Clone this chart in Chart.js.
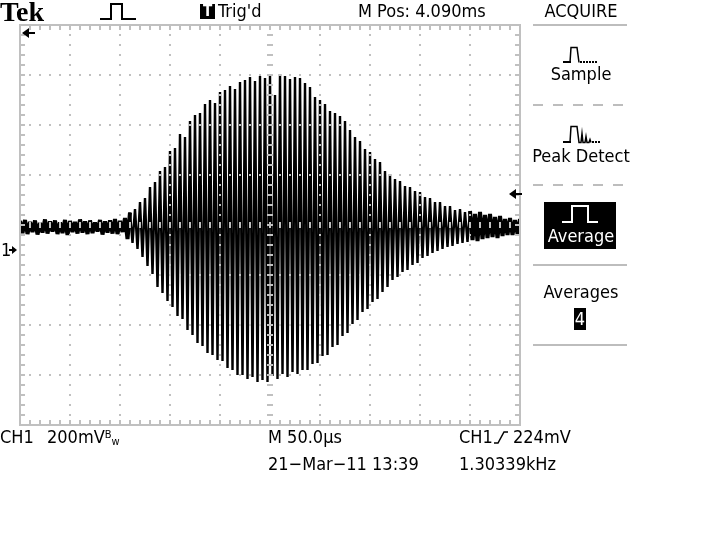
<!DOCTYPE html>
<html><head><meta charset="utf-8">
<script src="https://cdn.jsdelivr.net/npm/chart.js@4"></script>
<style>
html,body{margin:0;padding:0;background:#fff;}
#wrap{position:relative;width:703px;height:536px;overflow:hidden;background:#fff;}
canvas{position:absolute;left:0;top:0;}
.t{position:absolute;font-family:'DejaVu Sans Condensed','DejaVu Sans',sans-serif;font-stretch:condensed;font-size:18px;line-height:20px;color:#000;white-space:nowrap;}
.c{text-align:center;width:104px;left:529px;}
.w{color:#fff;}
</style></head><body>
<div id="wrap">
<canvas id="c" width="703" height="536"></canvas>
<div class="t" style="left:0px;top:0px;font-family:'Liberation Serif','DejaVu Serif',serif;font-weight:bold;font-stretch:normal;font-size:28px;line-height:24px;">Tek</div>
<div class="t w" style="left:200px;top:1px;font-weight:bold;width:15px;text-align:center;font-size:15px;">T</div>
<div class="t" style="left:218px;top:1px;">Trig'd</div>
<div class="t" style="left:358px;top:1px;">M Pos: 4.090ms</div>
<div class="t c" style="top:1px;">ACQUIRE</div>
<div class="t c" style="top:64px;">Sample</div>
<div class="t c" style="top:146px;">Peak Detect</div>
<div class="t c w" style="top:226px;">Average</div>
<div class="t c" style="top:282px;">Averages</div>
<div class="t w" style="left:574px;top:309px;width:12px;text-align:center;">4</div>
<div class="t" style="left:0px;top:427px;">CH1</div>
<div class="t" style="left:47px;top:427px;">200mV<span style="font-size:11px;position:relative;top:-5px;">B</span><span style="font-size:11px;position:relative;top:2px;">w</span></div>
<div class="t" style="left:268px;top:427px;">M 50.0µs</div>
<div class="t" style="left:459px;top:427px;">CH1</div>
<div class="t" style="left:513px;top:427px;">224mV</div>
<div class="t" style="left:268px;top:454px;">21−Mar−11 13:39</div>
<div class="t" style="left:459px;top:454px;">1.30339kHz</div>
</div>
<script>
const HALF_PERIOD_US = 2.5;            // spacing between a positive and negative excursion
const peakMv = [
  116,120,112,118,108,122,114,118,110,120,116,112,122,114,118,110,120,114,118,124,116,
  128,150,164,192,208,252,272,316,332,396,408,464,452,516,540,548,584,600,588,632,
  640,656,644,672,680,692,676,696,688,700,620,704,696,684,692,688,668,652,612,600,
  584,556,548,536,516,480,452,436,404,392,364,352,316,304,284,276,256,252,236,232,
  212,208,192,192,176,176,160,164,152,156,144,152,140,144,132,136,124,128,120,124
];
const troughMv = [
  68,64,72,62,70,66,74,64,68,60,72,66,70,64,68,74,62,70,66,64,72,
  44,28,4,-28,-64,-96,-148,-172,-204,-228,-264,-276,-320,-340,-372,-384,-412,-420,-440,-444,
  -472,-480,-500,-500,-516,-508,-528,-520,-528,-504,-516,-496,-508,-488,-496,-480,-480,-456,-452,-424,
  -420,-388,-380,-344,-332,-296,-280,-248,-236,-208,-196,-168,-148,-120,-108,-88,-80,-60,-52,-32,
  -24,-12,-4,4,12,16,24,28,32,40,36,44,48,52,48,56,60,60,64
];
const TRIGGER_LEVEL_MV = 224;
const X_MIN = 0, X_MAX = 500, X_DIV = 50, X_MINOR = 10;       // us
const Y_MIN = -700, Y_MAX = 900, Y_DIV = 200, Y_MINOR = 40;   // mV
const GRID = '#c0c0c0';

const points = [];
for (let k = 0; k < peakMv.length; k++) {
  points.push({x: 2 * k * HALF_PERIOD_US, y: peakMv[k]});
  if (k < troughMv.length) points.push({x: (2 * k + 1) * HALF_PERIOD_US, y: troughMv[k]});
}

function arrowLeft(ctx, x, y) { // tip at x
  ctx.beginPath(); ctx.moveTo(x, y); ctx.lineTo(x + 7, y - 5); ctx.lineTo(x + 7, y + 5); ctx.closePath(); ctx.fill();
  ctx.fillRect(x + 6, y - 1, 7, 2);
}
function arrowRight(ctx, x, y) { // tip at x
  ctx.beginPath(); ctx.moveTo(x, y); ctx.lineTo(x - 5, y - 4); ctx.lineTo(x - 5, y + 4); ctx.closePath(); ctx.fill();
  ctx.fillRect(x - 8, y - 1, 4, 2);
}

const graticule = {
  id: 'graticule',
  afterDatasetsDraw(chart) {
    const {ctx, scales: {x, y}} = chart;
    const L = Math.round(x.getPixelForValue(X_MIN)), R = Math.round(x.getPixelForValue(X_MAX));
    const T = Math.round(y.getPixelForValue(Y_MAX)), B = Math.round(y.getPixelForValue(Y_MIN));
    const xc = (X_MIN + X_MAX) / 2, yc = (Y_MIN + Y_MAX) / 2;
    ctx.save();
    ctx.fillStyle = GRID;
    for (let xv = X_MIN + X_DIV; xv < X_MAX; xv += X_DIV) {
      const px = Math.round(x.getPixelForValue(xv));
      for (let yv = Y_MIN + Y_MINOR; yv < Y_MAX; yv += Y_MINOR) {
        const py = Math.round(y.getPixelForValue(yv));
        if (xv === xc) ctx.fillRect(px - 3, py - 1, 6, 2); else ctx.fillRect(px - 1, py - 1, 2, 2);
      }
    }
    for (let yv = Y_MIN + Y_DIV; yv < Y_MAX; yv += Y_DIV) {
      const py = Math.round(y.getPixelForValue(yv));
      for (let xv = X_MIN + X_MINOR; xv < X_MAX; xv += X_MINOR) {
        const px = Math.round(x.getPixelForValue(xv));
        if (yv === yc) ctx.fillRect(px - 1, py - 3, 2, 6); else ctx.fillRect(px - 1, py - 1, 2, 2);
      }
    }
    // border with inward ticks
    ctx.fillRect(L - 1, T - 1, R - L + 2, 2);
    ctx.fillRect(L - 1, B - 1, R - L + 2, 2);
    ctx.fillRect(L - 1, T - 1, 2, B - T + 2);
    ctx.fillRect(R - 1, T - 1, 2, B - T + 2);
    for (let xv = X_MIN + X_MINOR; xv < X_MAX; xv += X_MINOR) {
      const px = Math.round(x.getPixelForValue(xv));
      ctx.fillRect(px - 1, T, 2, 5); ctx.fillRect(px - 1, B - 5, 2, 5);
    }
    for (let yv = Y_MIN + Y_MINOR; yv < Y_MAX; yv += Y_MINOR) {
      const py = Math.round(y.getPixelForValue(yv));
      ctx.fillRect(L, py - 1, 5, 2); ctx.fillRect(R - 5, py - 1, 5, 2);
    }
    // markers
    ctx.fillStyle = '#000';
    arrowLeft(ctx, L + 2, T + 8);                                   // trigger position (off screen left)
    arrowLeft(ctx, R - 11, Math.round(y.getPixelForValue(TRIGGER_LEVEL_MV)));  // trigger level
    arrowRight(ctx, L - 3, Math.round(y.getPixelForValue(0)));      // CH1 ground
    ctx.restore();
  },
  afterDraw(chart) {
    const ctx = chart.ctx;
    ctx.save();
    ctx.strokeStyle = '#000'; ctx.fillStyle = '#000'; ctx.lineWidth = 2;
    // header pulse icon
    ctx.beginPath(); ctx.moveTo(100, 19); ctx.lineTo(111, 19); ctx.lineTo(111, 4); ctx.lineTo(122, 4); ctx.lineTo(122, 19); ctx.lineTo(136, 19); ctx.stroke();
    // Trig'd T box
    ctx.fillRect(200, 4, 15, 15);
    // ground label "1"
    ctx.font = "18px 'DejaVu Sans Condensed','DejaVu Sans',sans-serif";
    ctx.textBaseline = 'middle';
    ctx.fillText('1', 1, Math.round(chart.scales.y.getPixelForValue(0)) + 1);
    // menu separators
    ctx.fillStyle = '#bdbdbd';
    ctx.fillRect(533, 24, 94, 2);
    ctx.fillRect(533, 264, 94, 2);
    ctx.fillRect(533, 344, 94, 2);
    for (let xx = 533; xx < 627; xx += 20) { ctx.fillRect(xx, 104, Math.min(10, 627 - xx), 2); ctx.fillRect(xx, 184, Math.min(10, 627 - xx), 2); }
    // sample icon
    ctx.fillStyle = '#000'; ctx.lineWidth = 1.5;
    for (let xx = 563; xx < 570; xx += 2) ctx.fillRect(xx, 61, 2, 2);
    for (let xx = 580; xx < 598; xx += 3) ctx.fillRect(xx, 61, 2, 2);
    ctx.beginPath(); ctx.moveTo(570, 62.5); ctx.lineTo(571, 47.5); ctx.lineTo(577, 47.5); ctx.lineTo(579, 62.5); ctx.stroke();
    // peak detect icon
    for (let xx = 563; xx < 570; xx += 2) ctx.fillRect(xx, 141, 2, 2);
    for (let xx = 592; xx < 599; xx += 3) ctx.fillRect(xx, 141, 2, 2);
    ctx.beginPath(); ctx.moveTo(570, 142.5); ctx.lineTo(571, 126.5); ctx.lineTo(577, 126.5); ctx.lineTo(579, 142.5);
    ctx.lineTo(581, 142.5); ctx.lineTo(582, 133.5); ctx.lineTo(583, 142.5); ctx.lineTo(585, 142.5); ctx.lineTo(586, 136.5); ctx.lineTo(587, 142.5); ctx.lineTo(589, 142.5); ctx.lineTo(590, 139.5); ctx.lineTo(591, 142.5); ctx.stroke();
    // average box and icon
    ctx.fillRect(544, 202, 72, 47);
    ctx.strokeStyle = '#fff'; ctx.lineWidth = 2;
    ctx.beginPath(); ctx.moveTo(562, 222); ctx.lineTo(572, 222); ctx.lineTo(572, 206); ctx.lineTo(588, 206); ctx.lineTo(588, 222); ctx.lineTo(598, 222); ctx.stroke();
    // averages value box
    ctx.fillRect(574, 308, 12, 22);
    // trigger slope symbol
    ctx.strokeStyle = '#000'; ctx.lineWidth = 1.5;
    ctx.beginPath(); ctx.moveTo(494, 443); ctx.lineTo(498, 443); ctx.lineTo(504, 432); ctx.lineTo(508, 432); ctx.stroke();
    ctx.restore();
  }
};

new Chart(document.getElementById('c'), {
  type: 'line',
  data: { datasets: [{
    data: points, borderColor: '#000', borderWidth: 2.4, pointRadius: 0, tension: 0, fill: false, borderJoinStyle: 'bevel',
    segment: { borderWidth: c => Math.abs(c.p0.parsed.y - c.p1.parsed.y) < 120 ? 4 : 2.4 }
  }] },
  options: {
    responsive: false, animation: false, devicePixelRatio: 1, events: [],
    layout: { padding: { left: 20, top: 25, right: 183, bottom: 111 } },
    plugins: { legend: { display: false }, tooltip: { enabled: false } },
    scales: {
      x: { type: 'linear', min: X_MIN, max: X_MAX, display: false },
      y: { type: 'linear', min: Y_MIN, max: Y_MAX, display: false }
    }
  },
  plugins: [graticule]
});
</script>
</body></html>
